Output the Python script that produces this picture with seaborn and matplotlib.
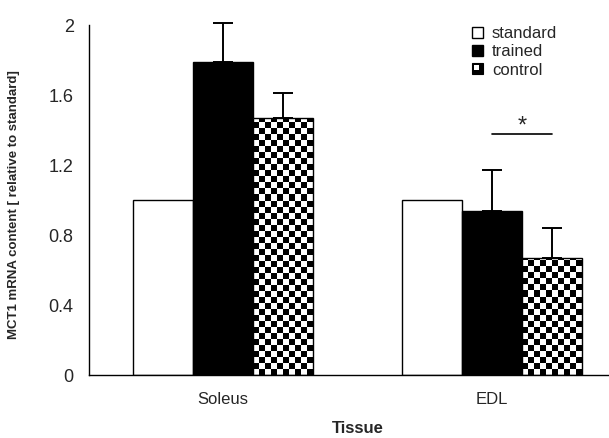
import numpy as np
import pandas as pd
import matplotlib
matplotlib.use("Agg")
import matplotlib.pyplot as plt
import seaborn as sns
from matplotlib.patches import Patch, Rectangle
from matplotlib.legend_handler import HandlerBase

tissues = ["Soleus", "EDL"]
groups = ["standard", "trained", "control"]
means = {
    "standard": [1.00, 1.00],
    "trained": [1.79, 0.94],
    "control": [1.47, 0.67],
}
errors = {
    "standard": [0.0, 0.0],
    "trained": [0.22, 0.23],
    "control": [0.14, 0.17],
}
yticks = [0, 0.4, 0.8, 1.2, 1.6, 2]

rows = []
for g in groups:
    for t, m in zip(tissues, means[g]):
        rows.append({"Tissue": t, "group": g, "value": m})
df = pd.DataFrame(rows)

sns.set_style("white")
plt.rcParams["font.family"] = ["Liberation Sans", "DejaVu Sans"]

fig = plt.figure(figsize=(6.09, 4.38), dpi=100)
ax = fig.add_axes([89 / 609, 1 - 375 / 438, 537 / 609, 350 / 438])

palette = {"standard": "white", "trained": "black", "control": "white"}
sns.barplot(data=df, x="Tissue", y="value", hue="group", order=tissues,
            hue_order=groups, palette=palette, width=0.67, errorbar=None,
            edgecolor="black", linewidth=1.0, legend=False, ax=ax)
ax.set_xlim(-0.5, 1.5)
ax.set_ylim(0, 2)

# bar patches are ordered by hue, then by category
patches = list(ax.patches)
centers = {}
for gi, g in enumerate(groups):
    for ti, t in enumerate(tissues):
        p = patches[gi * len(tissues) + ti]
        cx = p.get_x() + p.get_width() / 2
        centers[(g, t)] = cx
        # upper-only error bars
        if errors[g][ti] > 0:
            eb = ax.errorbar(cx, means[g][ti], yerr=[[0], [errors[g][ti]]],
                             fmt="none", ecolor="black", elinewidth=1.4,
                             capsize=7.5, capthick=1.4, zorder=3)
            for art in eb.lines[1] + eb.lines[2]:
                art.set_clip_on(False)
        if g == "control":
            # checkerboard fill, clipped to the bar
            cell_x = 6 * 2 / 537
            cell_y = 6 * 2 / 350
            x0, w = p.get_x(), p.get_width()
            h = p.get_height()
            nx = int(np.ceil(w / cell_x)) + 1
            ny = int(np.ceil(h / cell_y)) + 1
            board = (np.add.outer(np.arange(ny), np.arange(nx)) % 2).astype(float)
            im = ax.imshow(board, cmap="gray_r", vmin=0, vmax=1,
                           interpolation="nearest", origin="lower", aspect="auto",
                           extent=[x0, x0 + nx * cell_x, 0, ny * cell_y], zorder=1.5)
            im.set_clip_path(p)
            p.set_facecolor("none")
            p.set_zorder(2)

ax.set_xlim(-0.5, 1.5)
ax.set_ylim(0, 2)
ax.set_aspect("auto")

# significance marker over EDL trained vs control
x1, x2 = centers[("trained", "EDL")], centers[("control", "EDL")]
ax.plot([x1, x2], [1.376, 1.376], color="black", lw=1.2, clip_on=False)
ax.text((x1 + x2) / 2, 1.355, "*", ha="center", va="bottom", fontsize=17)

# axes styling
for s in ["top", "right"]:
    ax.spines[s].set_visible(False)
for s in ["left", "bottom"]:
    ax.spines[s].set_color("black")
    ax.spines[s].set_linewidth(1.0)
ax.set_yticks(yticks)
ax.set_yticklabels([f"{v:g}" for v in yticks], fontsize=13)
ax.tick_params(axis="y", direction="out", length=5, width=1, color="black", pad=6)
ax.set_xticks([0, 1])
ax.set_xticklabels(tissues, fontsize=12)
ax.set_xticks([-0.5, 0.5, 1.5], minor=True)
ax.tick_params(axis="x", which="major", length=0, pad=12)
ax.tick_params(axis="x", which="minor", direction="out", length=5, width=1, color="black")
ax.set_xlabel("Tissue", fontsize=12, fontweight="bold", labelpad=10)
ax.set_ylabel("")
fig.text(14 / 609, 1 - 205 / 438, "MCT1 mRNA content [ relative to standard]",
         rotation=90, ha="center", va="center", fontsize=9.5, fontweight="bold")


class CheckHandler(HandlerBase):
    def create_artists(self, legend, orig_handle, xdescent, ydescent,
                       width, height, fontsize, trans):
        s = height
        outer = Rectangle((-xdescent, -ydescent), s, s, facecolor="black",
                          edgecolor="black", lw=0.8, transform=trans)
        inner = Rectangle((-xdescent + s * 0.15, -ydescent + s * 0.35), s * 0.45, s * 0.5,
                          facecolor="white", edgecolor="none", transform=trans)
        return [outer, inner]


handles = [Patch(facecolor="white", edgecolor="black", lw=1.0),
           Patch(facecolor="black", edgecolor="black", lw=1.0),
           Patch(facecolor="black", edgecolor="black")]
leg = fig.legend(handles, groups, loc="upper left",
                 bbox_to_anchor=(457 / 609, 1 - 11 / 438), frameon=False,
                 fontsize=12, handlelength=0.65, handleheight=0.65,
                 handletextpad=0.55, labelspacing=0.2,
                 handler_map={handles[2]: CheckHandler()})

fig.savefig("out.png", dpi=100)
